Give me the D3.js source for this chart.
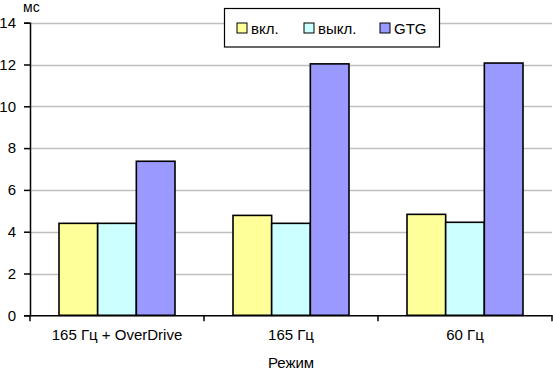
<!DOCTYPE html>
<html>
<head>
<meta charset="utf-8">
<script src="https://cdn.jsdelivr.net/npm/d3@7"></script>
<style>
  body { margin: 0; background: #fff; }
  svg { display: block; font-family: "Liberation Sans", Arial, sans-serif; }
</style>
</head>
<body>
<svg id="chart" width="553" height="371"></svg>
<script>
// data
const categories = ["165 Гц + OverDrive", "165 Гц", "60 Гц"];
const seriesNames = ["вкл.", "выкл.", "GTG"];
const seriesColors = ["#ffff99", "#ccffff", "#9999ff"];
const onValues = [4.4, 4.78, 4.83];
const offValues = [4.4, 4.4, 4.45];
const gtgValues = [7.37, 12.03, 12.07];
const yTicks = [0, 2, 4, 6, 8, 10, 12, 14];

const allSeries = [onValues, offValues, gtgValues];

const svg = d3.select("#chart");
const plotLeft = 30, plotRight = 552, plotTop = 22.7, plotBottom = 315.3;

const x = d3.scaleBand().domain(categories).range([plotLeft, plotRight]).paddingInner(0).paddingOuter(0);
const xInner = d3.scaleBand().domain(seriesNames)
  .range([0, x.bandwidth()]).paddingInner(0).paddingOuter(0.75);
const y = d3.scaleLinear().domain([0, 14]).range([plotBottom, plotTop]);

// grid
svg.append("g")
  .selectAll("line")
  .data(yTicks.filter((d) => d > 0))
  .enter()
  .append("line")
  .attr("x1", plotLeft)
  .attr("x2", plotRight)
  .attr("y1", (d) => Math.round(y(d)) + 0.5)
  .attr("y2", (d) => Math.round(y(d)) + 0.5)
  .style("stroke", "#c0c0c0")
  .style("stroke-width", 1.3);

// bars
const groups = svg.append("g")
  .selectAll("g")
  .data(categories)
  .enter()
  .append("g")
  .attr("transform", (d) => `translate(${x(d)},0)`);

groups.selectAll("rect")
  .data((d, i) => seriesNames.map((s, j) => ({ s, j, v: allSeries[j][i] })))
  .enter()
  .append("rect")
  .attr("x", (d) => xInner(d.s))
  .attr("width", xInner.bandwidth())
  .attr("y", (d) => y(d.v))
  .attr("height", (d) => plotBottom - y(d.v))
  .style("fill", (d) => seriesColors[d.j])
  .style("stroke", "#000")
  .style("stroke-width", 1.6);

// y axis
const yAxis = svg.append("g")
  .attr("transform", `translate(${plotLeft},0)`)
  .call(d3.axisLeft(y).tickValues(yTicks).tickSize(6).tickPadding(8).tickFormat(d3.format("d")));
yAxis.select(".domain").style("stroke", "#000").style("stroke-width", 1.5);
yAxis.selectAll(".tick line").style("stroke", "#000").style("stroke-width", 1.5);
yAxis.selectAll("text").style("font-size", "15px").style("fill", "#000")
  .style("font-family", "'Liberation Sans', Arial, sans-serif");

// x axis
const xAxis = svg.append("g")
  .attr("transform", `translate(0,${plotBottom})`)
  .call(d3.axisBottom(x).tickSize(0).tickPadding(14));
xAxis.select(".domain").style("stroke", "#000").style("stroke-width", 1.5);
xAxis.selectAll("text").style("font-size", "15px").style("fill", "#000")
  .style("font-family", "'Liberation Sans', Arial, sans-serif");

// category separators
svg.append("g")
  .selectAll("line")
  .data(categories.map((c) => x(c)).concat([plotRight]))
  .enter()
  .append("line")
  .attr("x1", (d) => d)
  .attr("x2", (d) => d)
  .attr("y1", plotBottom)
  .attr("y2", plotBottom + 6)
  .style("stroke", "#000")
  .style("stroke-width", 1.5);

// axis titles
svg.append("text")
  .attr("x", 23)
  .attr("y", 12)
  .style("font-size", "14px")
  .text("мс");

svg.append("text")
  .attr("x", (plotLeft + plotRight) / 2)
  .attr("y", 368)
  .attr("text-anchor", "middle")
  .style("font-size", "15px")
  .text("Режим");

// legend
const legend = svg.append("g");
legend.append("rect")
  .attr("x", 224.5)
  .attr("y", 8.5)
  .attr("width", 215)
  .attr("height", 38.5)
  .style("fill", "#fff")
  .style("stroke", "#000")
  .style("stroke-width", 1.2);

const legendX = [237, 304, 380];
const items = legend.selectAll("g.item")
  .data(seriesNames)
  .enter()
  .append("g")
  .attr("transform", (d, i) => `translate(${legendX[i]},23)`);
items.append("rect")
  .attr("width", 10)
  .attr("height", 10)
  .style("fill", (d, i) => seriesColors[i])
  .style("stroke", "#000")
  .style("stroke-width", 1);
items.append("text")
  .attr("x", 14)
  .attr("y", 10.5)
  .style("font-size", "15px")
  .text((d) => d);
</script>
</body>
</html>
